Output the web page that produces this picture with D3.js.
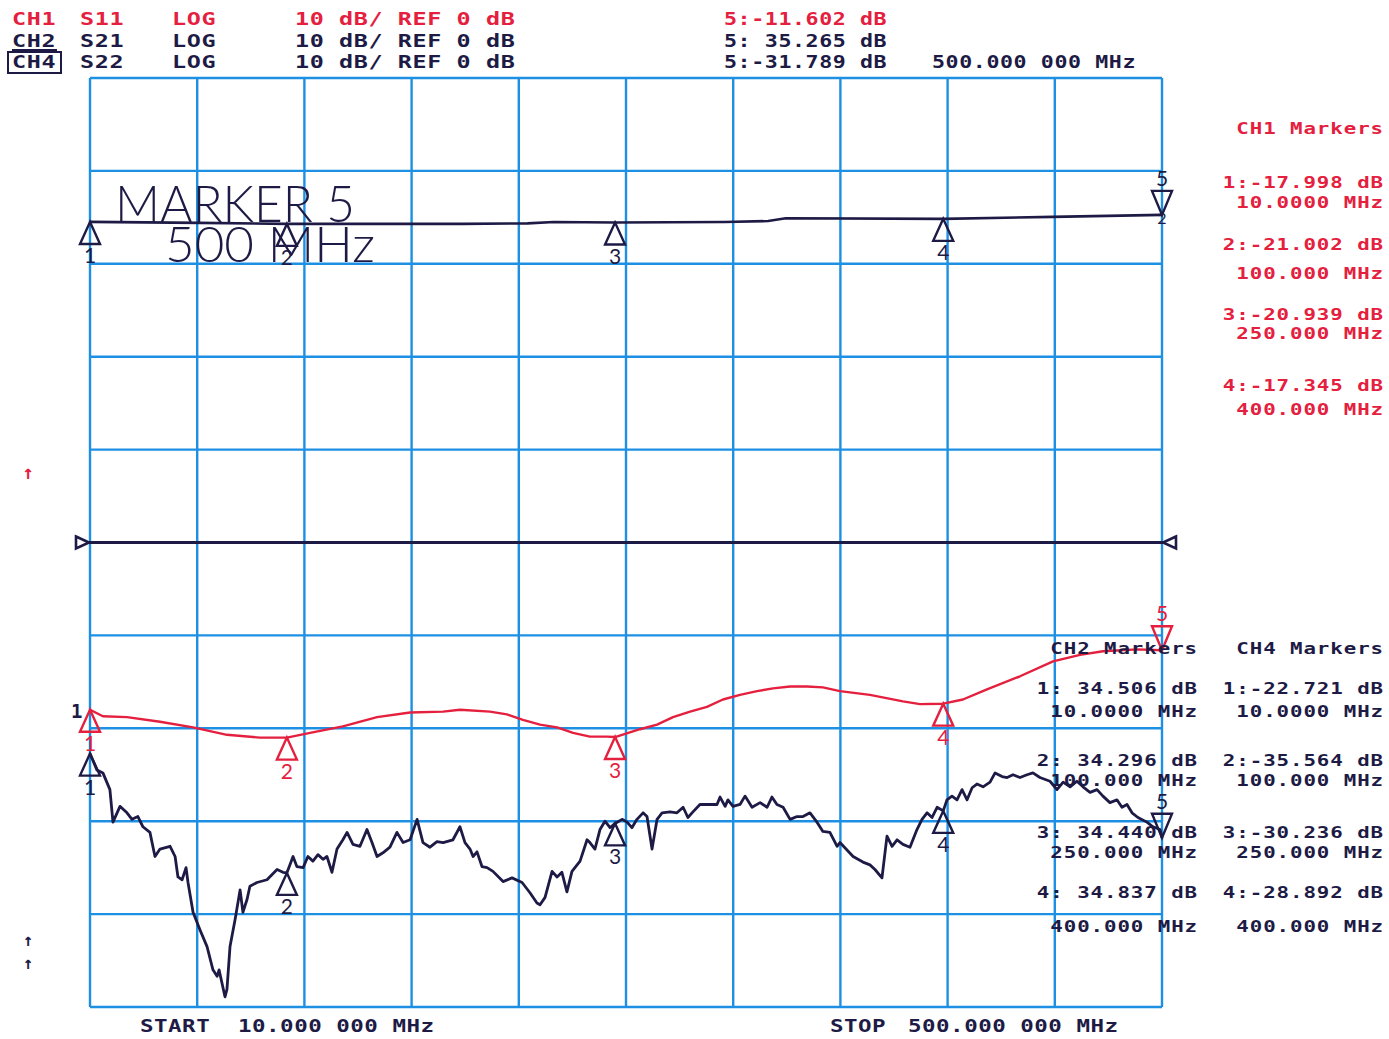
<!DOCTYPE html>
<html><head><meta charset="utf-8">
<script src="https://cdn.jsdelivr.net/npm/d3@7"></script>
<style>
body{margin:0;background:#fff}
svg{display:block}
text{white-space:pre}
</style>
</head><body>
<svg id="chart" width="1389" height="1039"></svg>
<script>
// ---------- data ----------
const freqStart = 10, freqStop = 500;            // MHz
const dbMin = -50, dbMax = 50;                  // 10 dB/div, REF 0 dB at centre
const freqGrid = d3.range(0, 11).map(i => freqStart + i * 49);
const dbGrid = d3.range(dbMin, dbMax + 1, 10);

const chanLabels  = ["CH1", "CH2", "CH4"];
const paramLabels = ["S11", "S21", "S22"];
const fmtLabels   = ["LOG", "LOG", "LOG"];
const scaleLabels = ["10 dB/ REF 0 dB", "10 dB/ REF 0 dB", "10 dB/ REF 0 dB"];

const markerFreqs = [10, 100, 250, 400, 500];
const markerFreqLabels = ["10.0000 MHz", "100.000 MHz", "250.000 MHz", "400.000 MHz"];
const s11Markers = [-17.998, -21.002, -20.939, -17.345, -11.602];
const s21Markers = [34.506, 34.296, 34.440, 34.837, 35.265];
const s22Markers = [-22.721, -35.564, -30.236, -28.892, -31.789];
const activeFreqLabel = "500.000 000 MHz";
const startWord = "START", startVal = "10.000 000 MHz";
const stopWord = "STOP", stopVal = "500.000 000 MHz";

// CH1 S11 (MHz, dB)
const s11 = [[10,-18.0],[15.9,-18.7],[26.9,-18.8],[42,-19.3],[57.1,-19.9],[72.6,-20.7],[87.7,-21.0],[100,-21.0],
[110.6,-20.5],[125.6,-19.8],[141.2,-18.8],[156.3,-18.3],[171.4,-18.2],[179.1,-18.0],[192.8,-18.2],[200.6,-18.5],
[207.9,-19.1],[215.7,-19.6],[223.5,-19.9],[230.8,-20.5],[238.5,-20.9],[246.3,-20.9],[250,-20.94],[261.4,-20.1],
[269.2,-19.6],[276.5,-18.8],[284.3,-18.2],[292,-17.7],[299.3,-16.9],[307.1,-16.4],[314.9,-16.0],[322.2,-15.7],
[330,-15.5],[337.7,-15.5],[345,-15.6],[352.8,-16.0],[366.5,-16.4],[381.6,-17.1],[389.4,-17.4],[400,-17.35],
[409,-16.9],[420,-15.8],[435.1,-14.4],[450.2,-12.8],[462.5,-12.1],[473,-11.7],[488.6,-11.5],[500,-11.6]];

// CH2 S21 (MHz, dB)
const s21 = [[10,34.51],[60,34.4],[100,34.3],[180,34.3],[210,34.35],[222,34.5],[250,34.44],[300,34.5],
[320,34.6],[328,34.9],[400,34.84],[450,35.05],[500,35.27]];

// CH4 S22 (MHz, dB)
const s22 = [[10,-22.72],[13.2,-24.5],[15.9,-24.8],[19.1,-26.6],[20.5,-30.1],[23.7,-28.4],[26.9,-29.1],[29.2,-29.8],
[31.9,-29.5],[34.2,-30.6],[37.4,-31.2],[39.7,-33.8],[42,-33.0],[46.6,-32.7],[48.9,-33.8],[50.2,-36.0],[52.1,-36.3],
[53.9,-35.0],[54.8,-36.6],[57.1,-39.8],[60.3,-41.7],[63.5,-43.5],[66.2,-46.0],[68.1,-46.7],[69,-46.0],[71.7,-48.9],
[72.6,-48.1],[74,-43.5],[76.3,-40.6],[78.6,-37.4],[79.9,-39.8],[81.8,-38.4],[83.1,-37.0],[86.3,-36.6],[90.9,-36.3],
[95.5,-35.2],[98.2,-35.5],[100,-35.56],[101.4,-34.7],[102.8,-33.8],[104.6,-34.9],[107.4,-35.0],[109.6,-33.8],[111.9,-34.3],
[114.2,-33.6],[116.5,-34.1],[118.3,-33.8],[120.6,-35.5],[122.9,-33.0],[125.6,-32.0],[127.5,-31.2],[130.2,-32.5],
[133.4,-32.7],[136.6,-30.9],[138.9,-32.3],[141.2,-33.8],[143.9,-33.4],[147.1,-32.8],[150.3,-31.2],[153.1,-32.3],
[156.3,-32.0],[159.5,-29.8],[162.2,-32.3],[165.4,-32.8],[168.6,-32.2],[171.4,-32.3],[175.9,-32.0],[179.1,-30.6],
[181.4,-32.3],[183.7,-33.0],[185.1,-33.8],[186.9,-33.3],[189.2,-34.9],[191.5,-35.0],[194.2,-35.4],[198.8,-36.5],
[202.9,-36.1],[207.5,-36.6],[211.1,-37.7],[214.3,-38.8],[215.7,-39.0],[218,-38.2],[221.2,-35.4],[223.5,-36.0],
[225.7,-35.5],[228,-37.6],[230.3,-35.4],[234,-34.3],[237.2,-32.0],[238.5,-32.3],[240.8,-33.0],[243.1,-30.9],
[245.4,-30.0],[247.7,-30.7],[250,-30.24],[253.2,-29.8],[255.5,-30.1],[257.7,-30.7],[260,-29.8],[262.8,-29.1],
[264.6,-29.5],[266.9,-33.0],[269.2,-29.8],[271.5,-29.1],[275.1,-29.0],[278.3,-29.1],[281.1,-28.5],[283.3,-29.6],
[285.6,-29.0],[288.8,-28.2],[296.6,-28.2],[298,-27.4],[300.3,-28.4],[301.6,-27.7],[303.9,-28.4],[307.1,-28.2],
[309.4,-27.3],[312.6,-28.5],[316.3,-28.0],[319.5,-28.5],[321.7,-27.4],[324,-28.2],[326.8,-28.5],[330,-29.8],
[333.2,-29.5],[335.9,-29.5],[339.1,-29.1],[342.3,-30.1],[345,-31.1],[348.2,-31.2],[351.5,-32.7],[352.8,-32.3],
[358.8,-33.8],[363.3,-34.4],[366.5,-34.7],[368.8,-35.2],[372,-36.1],[374.3,-31.6],[376.6,-32.7],[378.9,-32.0],
[381.6,-32.5],[384.8,-32.8],[388,-30.9],[390.3,-29.8],[392.6,-29.1],[394.9,-29.6],[397.2,-28.5],[400,-28.89],
[401.7,-27.7],[404,-27.3],[406.3,-27.7],[408.6,-26.6],[410.9,-27.7],[413.2,-26.4],[415.4,-26.0],[418.2,-26.3],
[421.4,-25.8],[423.7,-24.8],[426.9,-25.2],[429.2,-25.3],[431.9,-25.0],[435.1,-25.3],[438.3,-25.0],[441,-24.8],
[444.2,-25.3],[448.8,-25.7],[452,-26.6],[454.8,-25.8],[458,-26.3],[461.1,-25.7],[463.9,-26.3],[467.1,-26.9],
[470.3,-26.6],[473,-27.3],[476.2,-28.0],[479.4,-27.7],[481.7,-28.5],[484,-28.2],[486.3,-29.1],[489,-29.6],
[493.1,-30.1],[495.9,-30.6],[499.1,-30.9],[500,-31.79]];

// ---------- drawing ----------
const RED = "#e4203e", INK = "#1d1b45", GRID = "#1e90e4";
const svg = d3.select("#chart");
const x = d3.scaleLinear().domain([freqStart, freqStop]).range([90, 1162]);
const y = d3.scaleLinear().domain([dbMin, dbMax]).range([1007, 78]);

// grid
const g = svg.append("g");
g.selectAll("line.v").data(freqGrid).join("line")
  .attr("x1", d => x(d)).attr("x2", d => x(d)).attr("y1", y(dbMin)).attr("y2", y(dbMax))
  .attr("stroke", GRID).attr("stroke-width", 2.4);
g.selectAll("line.h").data(dbGrid).join("line")
  .attr("y1", d => y(d)).attr("y2", d => y(d)).attr("x1", x(freqStart)).attr("x2", x(freqStop))
  .attr("stroke", GRID).attr("stroke-width", 2.4);

// reference line (0 dB) with end flags
svg.append("line").attr("x1", x(freqStart) - 13).attr("x2", x(freqStop) + 13)
  .attr("y1", y(0)).attr("y2", y(0)).attr("stroke", INK).attr("stroke-width", 2.8);
svg.append("path").attr("d", `M${x(freqStart)-14},${y(0)-6}L${x(freqStart)-1},${y(0)}L${x(freqStart)-14},${y(0)+6}Z`)
  .attr("fill", "#fff").attr("stroke", INK).attr("stroke-width", 2.6);
svg.append("path").attr("d", `M${x(freqStop)+14},${y(0)-6}L${x(freqStop)+1},${y(0)}L${x(freqStop)+14},${y(0)+6}Z`)
  .attr("fill", "#fff").attr("stroke", INK).attr("stroke-width", 2.6);

// big annotation
const thin = "Lato, 'DejaVu Sans', sans-serif";
svg.append("text").attr("x", 115).attr("y", 222).text("MARKER 5")
  .attr("font-family", thin).attr("font-weight", 300).attr("font-size", 52)
  .attr("textLength", 240).attr("lengthAdjust", "spacingAndGlyphs").attr("fill", INK);
svg.append("text").attr("x", 165).attr("y", 262).text("500 MHz")
  .attr("font-family", thin).attr("font-weight", 300).attr("font-size", 50)
  .attr("textLength", 210).attr("lengthAdjust", "spacingAndGlyphs").attr("fill", INK);

// traces
const line = d3.line().x(d => x(d[0])).y(d => y(d[1]));
svg.append("path").datum(s21).attr("d", line).attr("fill", "none").attr("stroke", INK).attr("stroke-width", 2.6);
svg.append("path").datum(s11).attr("d", line).attr("fill", "none").attr("stroke", RED).attr("stroke-width", 2.4).attr("stroke-linejoin", "round");
svg.append("path").datum(s22).attr("d", line).attr("fill", "none").attr("stroke", INK).attr("stroke-width", 2.8).attr("stroke-linejoin", "round");

// markers
function drawMarkers(vals, color) {
  vals.forEach((v, i) => {
    const px = x(markerFreqs[i]), py = y(v);
    const up = i < 4;
    const h = up ? 22 : -24, w = 10;
    svg.append("path").attr("d", `M${px},${py}L${px - w},${py + h}L${px + w},${py + h}Z`)
      .attr("fill", "none").attr("stroke", color).attr("stroke-width", 2.4);
    svg.append("text").attr("x", px).attr("y", up ? py + h + 19 : py + h - 5)
      .attr("text-anchor", "middle").attr("font-family", thin).attr("font-weight", 400)
      .attr("font-size", 21).attr("fill", color).text(i + 1);
  });
}
drawMarkers(s21Markers, INK);
drawMarkers(s11Markers, RED);
drawMarkers(s22Markers, INK);
svg.append("text").attr("x", x(freqStop)).attr("y", y(s21Markers[4]) + 9).attr("text-anchor", "middle")
  .attr("font-family", thin).attr("font-size", 16).attr("fill", INK).text("2");

// text helper: bold mono, stretched horizontally like the plotter font
const mono = "'DejaVu Sans Mono', 'Liberation Mono', monospace";
function txt(xp, yp, s, fill, opt = {}) {
  const sx = opt.sx || 1.25;
  return svg.append("text").attr("transform", `translate(${xp},${yp}) scale(${sx},1)`).text(s)
    .attr("font-family", mono).attr("font-weight", "bold")
    .attr("font-size", opt.size || 18).attr("letter-spacing", opt.ls != null ? opt.ls : 0.4)
    .attr("text-anchor", opt.anchor || "start").attr("fill", fill);
}

// header
const hdrY = [25, 47, 68];
const hdrCol = [RED, INK, INK];
const hl = {sx: 1.3, ls: 0.47};
chanLabels.forEach((c, i) => {
  txt(12, hdrY[i], c, hdrCol[i], hl);
  txt(80, hdrY[i], paramLabels[i], hdrCol[i], hl);
  txt(172, hdrY[i], fmtLabels[i], hdrCol[i], hl);
  txt(295, hdrY[i], scaleLabels[i], hdrCol[i], hl);
});
svg.append("line").attr("x1", 12).attr("x2", 57).attr("y1", 50).attr("y2", 50).attr("stroke", INK).attr("stroke-width", 2);
svg.append("rect").attr("x", 8).attr("y", 52).attr("width", 53).attr("height", 21)
  .attr("fill", "none").attr("stroke", INK).attr("stroke-width", 2);

const fmtVal = v => (v < 0 ? v.toFixed(3) : " " + v.toFixed(3)) + " dB";
const hr = {sx: 1.2, ls: 0.5};
[s11Markers, s21Markers, s22Markers].forEach((m, i) => {
  txt(724, hdrY[i], "5:" + fmtVal(m[4]), hdrCol[i], hr);
});
txt(932, 68, activeFreqLabel, INK, hr);

// CH1 markers block (right)
const mk = {anchor: "end", sx: 1.3, ls: 0.7, size: 16};
txt(1384, 134, "CH1 Markers", RED, mk);
const ch1Y = [[188, 208], [250, 279], [320, 339], [391, 415]];
ch1Y.forEach((yy, i) => {
  txt(1384, yy[0], (i + 1) + ":" + fmtVal(s11Markers[i]), RED, mk);
  txt(1384, yy[1], markerFreqLabels[i], RED, mk);
});

// CH2 / CH4 blocks
txt(1198, 654, "CH2 Markers", INK, mk);
txt(1384, 654, "CH4 Markers", INK, mk);
const lowY = [[694, 717], [766, 786], [838, 858], [898, 932]];
lowY.forEach((yy, i) => {
  txt(1198, yy[0], (i + 1) + ":" + fmtVal(s21Markers[i]), INK, mk);
  txt(1198, yy[1], markerFreqLabels[i], INK, mk);
  txt(1384, yy[0], (i + 1) + ":" + fmtVal(s22Markers[i]), INK, mk);
  txt(1384, yy[1], markerFreqLabels[i], INK, mk);
});

// bottom
const bt = {sx: 1.25, ls: 0.4};
txt(140, 1032, startWord, INK, bt);
txt(238, 1032, startVal, INK, bt);
txt(830, 1032, stopWord, INK, bt);
txt(908, 1032, stopVal, INK, bt);

// marker-1 reference tag and off-scale arrows
txt(71, 718, "1", INK, {sx: 1, ls: 0, size: 19});
txt(28, 479, "↑", RED, {sx: 1, ls: 0, anchor: "middle", size: 19});
txt(28, 946, "↑", INK, {sx: 1, ls: 0, anchor: "middle", size: 17});
txt(28, 969, "↑", INK, {sx: 1, ls: 0, anchor: "middle", size: 17});
</script>
</body></html>
